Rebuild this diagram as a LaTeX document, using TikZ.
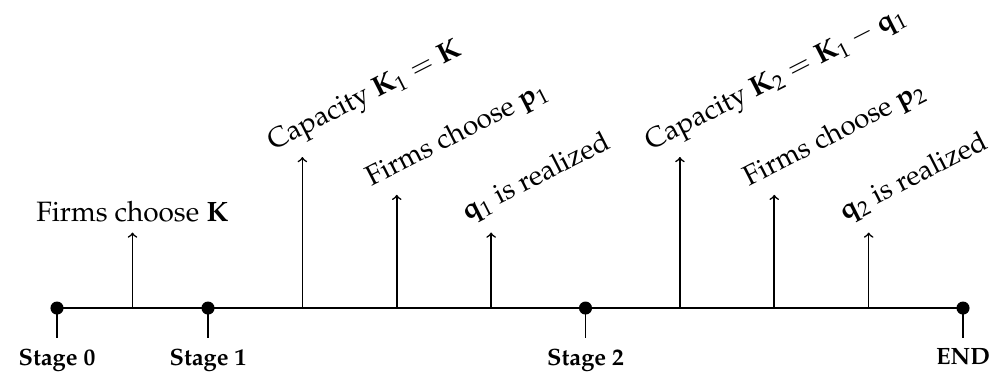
\documentclass[tikz,border=0pt]{standalone}
\usepackage[T1]{fontenc}
\usepackage{mathpazo}
\usetikzlibrary{positioning}
\begin{document}
\begin{tikzpicture}[scale=0.6634,
		dot/.style={circle,fill=black,inner sep=0pt,minimum size=0.23cm},
		event/.style={->,line width=0.8pt},
		tlabel/.style={rotate=27,anchor=base west,inner sep=0pt,font=\fontsize{14}{16}\selectfont},
		slabel/.style={inner sep=0pt,font=\fontsize{11.8}{14}\selectfont\bfseries}]
		\useasboundingbox (-1.51,-1.72) rectangle (24.98,8.16);
		
		% time line
		\coordinate (start) at (0,0);
		\coordinate (finish) at (24,0);
		\draw[line width=1.2pt] (start)--(finish);
		
		% stages
		\node[dot] (s0) at (0,0){};
		\node[dot] (s1) at (4,0){};
		\node[dot] (s2) at (14,0){};
		\node[dot] (s3) at (24,0){};
		\coordinate (t0) at (0,-0.8);
		\coordinate (t1) at (4,-0.8);
		\coordinate (t2) at (14,-0.8);
		\coordinate (t3) at (24,-0.8);
		\draw[line width=0.8pt](s0.center)--(t0);
		\draw[line width=0.8pt](s1.center)--(t1);
		\draw[line width=0.8pt](s2.center)--(t2);
		\draw[line width=0.8pt](s3.center)--(t3);
		\node[slabel,below=5pt of t0] (l0){Stage 0};
		\node[slabel,below=5pt of t1] (l1){Stage 1};
		\node[slabel,below=5pt of t2] (l2){Stage 2};
		\node[slabel,below=5pt of t3] (l3){END};
		
		% events
		\coordinate (b0) at (2,0);    \coordinate (e0) at (2,2);
		\coordinate (b1) at (6.5,0);  \coordinate (e1) at (6.5,4);
		\coordinate (b2) at (9,0);    \coordinate (e2) at (9,3);
		\coordinate (b3) at (11.5,0); \coordinate (e3) at (11.5,2);
		\coordinate (b4) at (16.5,0); \coordinate (e4) at (16.5,4);
		\coordinate (b5) at (19,0);   \coordinate (e5) at (19,3);
		\coordinate (b6) at (21.5,0); \coordinate (e6) at (21.5,2);
		\foreach \i in {0,...,6}
		\draw[event](b\i)--(e\i);
		
		\node[anchor=base,inner sep=0pt,font=\fontsize{14}{16}\selectfont] (k0) at (2,2.3){Firms choose $\mathbf{K}$};
		\node[tlabel] (k1) at (5.72,4.16){Capacity $\mathbf{K}_1=\mathbf{K}$};
		\node[tlabel] (p1) at (8.32,3.22){Firms choose $\mathbf{p}_1$};
		\node[tlabel] (q1) at (10.85,2.3){$\mathbf{q}_1$ is realized};
		\node[tlabel] (k2) at (15.72,4.16){Capacity $\mathbf{K}_2=\mathbf{K}_1-\mathbf{q}_1$};
		\node[tlabel] (p2) at (18.32,3.22){Firms choose $\mathbf{p}_2$};
		\node[tlabel] (q2) at (20.85,2.3){$\mathbf{q}_2$ is realized};
\end{tikzpicture}
\end{document}
